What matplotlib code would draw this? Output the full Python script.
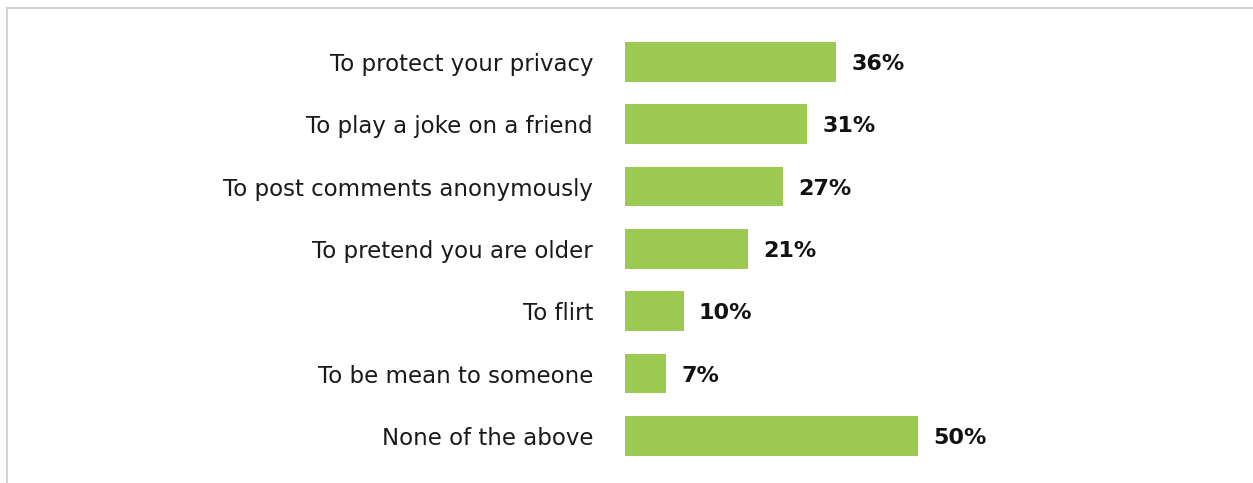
import matplotlib.pyplot as plt
from matplotlib.lines import Line2D

reasons = [
    "To protect your privacy",
    "To play a joke on a friend",
    "To post comments anonymously",
    "To pretend you are older",
    "To flirt",
    "To be mean to someone",
    "None of the above",
]
shares = [36, 31, 27, 21, 10, 7, 50]

BAR_GREEN = "#9bc952"
FRAME_GRAY = "#d4d4d4"

plt.rcParams["font.family"] = ["DejaVu Sans"]

W, H = 1253, 483
fig = plt.figure(figsize=(W / 100, H / 100), dpi=100)
ax = fig.add_axes([625 / W, 1 - 467 / H, 616 / W, 436.3 / H])

pos = list(range(len(reasons)))
ax.barh(pos, shares, height=0.64, color=BAR_GREEN)
ax.set_xlim(0, 105)
ax.set_ylim(len(reasons) - 0.5, -0.5)

for y, v in zip(pos, shares):
    ax.annotate(f"{v}%", (v, y), xytext=(11, -1.5), textcoords="offset points",
                ha="left", va="center", fontsize=16, fontweight="bold",
                color="#111111")

ax.set_yticks(pos)
ax.set_yticklabels(reasons, fontsize=16.5, color="#1a1a1a")
ax.tick_params(axis="y", length=0, pad=23)
ax.set_xticks([])
for s in ax.spines.values():
    s.set_visible(False)

# thin frame on the top and left edges
fig.add_artist(Line2D([7 / W, 1], [1 - 8 / H, 1 - 8 / H], transform=fig.transFigure,
                      color=FRAME_GRAY, lw=1.5))
fig.add_artist(Line2D([7 / W, 7 / W], [0, 1 - 8 / H], transform=fig.transFigure,
                      color=FRAME_GRAY, lw=1.5))

fig.savefig("out.png", dpi=100)
